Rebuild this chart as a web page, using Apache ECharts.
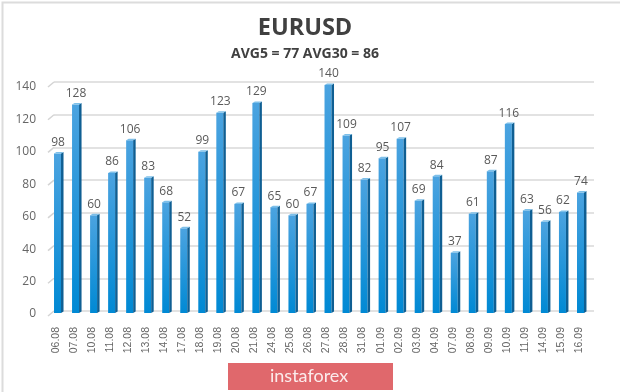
<!DOCTYPE html>
<html>
<head>
<meta charset="utf-8">
<style>
  html, body { margin: 0; padding: 0; background: #fff; }
  #chart { width: 620px; height: 392px; }
</style>
<script src="https://cdn.jsdelivr.net/npm/echarts@6/dist/echarts.min.js"></script>
</head>
<body>
<div id="chart"></div>
<script>
var categories = ['06.08','07.08','10.08','11.08','12.08','13.08','14.08','17.08','18.08','19.08','20.08','21.08','24.08','25.08','26.08','27.08','28.08','31.08','01.09','02.09','03.09','04.09','07.09','08.09','09.09','10.09','11.09','14.09','15.09','16.09'];
var values = [98,128,60,86,106,83,68,52,99,123,67,129,65,60,67,140,109,82,95,107,69,84,37,61,87,116,63,56,62,74];
var yTicks = [0,20,40,60,80,100,120,140];
var titleText = 'EURUSD';
var subtitleText = 'AVG5 = 77 AVG30 = 86';

var font = '"Open Sans", "Noto Sans", sans-serif';

// 3D looking bar: front, dark side, light top, and the value above it
function renderBar(params, api) {
  var top = api.coord([api.value(0), api.value(1)]);
  var base = api.coord([api.value(0), 0]);
  var x = top[0] - 5;
  var w = 7;
  var d = 2.5;
  return {
    type: 'group',
    children: [
      {
        type: 'rect',
        shape: { x: x, y: top[1], width: w, height: base[1] - top[1] },
        style: {
          fill: new echarts.graphic.LinearGradient(0, 0, 0, 1, [
            { offset: 0, color: '#4ba3e0' },
            { offset: 1, color: '#0089d4' }
          ])
        }
      },
      {
        type: 'polygon',
        shape: { points: [[x + w, top[1]], [x + w + d, top[1] - 1.5], [x + w + d, base[1] - 1.5], [x + w, base[1]]] },
        style: { fill: '#0f5f93' }
      },
      {
        type: 'polygon',
        shape: { points: [[x, top[1]], [x + d, top[1] - 1.5], [x + w + d, top[1] - 1.5], [x + w, top[1]]] },
        style: { fill: '#7cbfe9' }
      },
      {
        type: 'text',
        style: {
          x: top[0] - 1,
          y: top[1] - 11,
          text: String(api.value(1)),
          fill: '#595959',
          font: '12px ' + font,
          align: 'center',
          verticalAlign: 'middle'
        }
      }
    ]
  };
}

// short slanted piece joining each back gridline to the front of the plot
function renderWallTick(params, api) {
  var y = api.coord([0, api.value(0)])[1];
  var left = params.coordSys.x;
  return {
    type: 'line',
    shape: { x1: left - 6, y1: y + 5, x2: left, y2: y },
    style: { stroke: '#d4d4d4', lineWidth: 1.5 }
  };
}

var chart = echarts.init(document.getElementById('chart'));
var option = {
  animation: false,
  backgroundColor: '#ffffff',
  title: [
    {
      text: titleText, left: 300, top: 11, textAlign: 'center',
      textStyle: { fontFamily: font, fontSize: 23.5, fontWeight: 'bold', color: '#404040' }
    },
    {
      text: subtitleText, left: 300, top: 42, textAlign: 'center',
      textStyle: { fontFamily: font, fontSize: 14, fontWeight: 'bold', color: '#404040' }
    }
  ],
  grid: [
    { left: 50, right: 29, top: 85, height: 228 },
    // back wall of the 3D plot, gridlines sit here
    { left: 54, right: 26, top: 82, height: 229 },
    // front edge of the plot, only carries the axis labels
    { left: 47, right: 32, top: 87, height: 227 }
  ],
  xAxis: [
    { type: 'category', gridIndex: 0, data: categories, show: false },
    { type: 'category', gridIndex: 1, data: categories, show: false },
    {
      type: 'category', gridIndex: 2, data: categories,
      axisLine: { show: false },
      axisTick: { show: false },
      axisLabel: { rotate: 90, interval: 0, fontSize: 10.5, margin: 13, color: '#666666', fontFamily: '"Liberation Sans", sans-serif' }
    }
  ],
  yAxis: [
    { type: 'value', gridIndex: 0, min: 0, max: 140, interval: 20, show: false },
    {
      type: 'value', gridIndex: 1, min: 0, max: 140, interval: 20,
      axisLine: { show: false },
      axisTick: { show: false },
      axisLabel: { show: false },
      splitLine: { lineStyle: { color: '#d8d8d8', width: 1.5 } }
    },
    {
      type: 'value', gridIndex: 2, min: 0, max: 140, interval: 20,
      axisLine: { show: false },
      axisTick: { show: false },
      splitLine: { show: false },
      axisLabel: { fontSize: 12, margin: 11, color: '#666666', fontFamily: font }
    }
  ],
  series: [
    {
      type: 'custom',
      xAxisIndex: 1,
      yAxisIndex: 1,
      renderItem: renderWallTick,
      encode: { y: 0 },
      data: yTicks.map(function (t) { return [t]; }),
      z: 1
    },
    {
      type: 'custom',
      xAxisIndex: 0,
      yAxisIndex: 0,
      renderItem: renderBar,
      encode: { x: 0, y: 1 },
      data: categories.map(function (c, i) { return [i, values[i]]; }),
      z: 5
    }
  ],
  graphic: [
    {
      type: 'rect', left: 0, top: 0, silent: true,
      shape: { width: 619, height: 391 },
      style: { fill: 'none', stroke: '#dcdcdc', lineWidth: 2 }
    },
    {
      type: 'rect', left: 228, top: 363,
      shape: { width: 165, height: 27 },
      style: { fill: '#e0686c' }
    },
    {
      type: 'text', left: 270, top: 367,
      style: { text: 'instaforex', fill: '#fbecec', font: '18px Lato, ' + font }
    }
  ]
};
chart.setOption(option);
</script>
</body>
</html>
